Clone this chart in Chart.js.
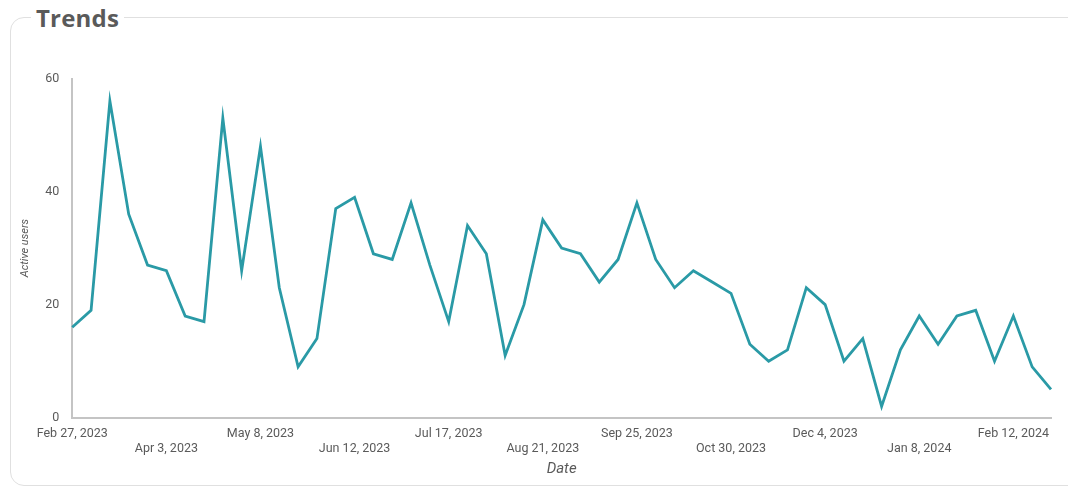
<!DOCTYPE html>
<html>
<head>
<meta charset="utf-8">
<script src="https://cdn.jsdelivr.net/npm/chart.js@4.4.1/dist/chart.umd.min.js"></script>
<style>
  html, body { margin: 0; padding: 0; background: #fff; width: 1068px; height: 488px; overflow: hidden; }
  .card {
    position: absolute; left: 10px; top: 17px; width: 1080px; height: 469px;
    border: 1.5px solid #e0e0e0; border-radius: 14px; box-sizing: border-box;
  }
  .title {
    position: absolute; left: 31px; top: 1px; padding: 0 5px; background: #fff;
    font: bold 24px "Open Sans", sans-serif; color: #5a5a5a; letter-spacing: 0.2px;
  }
  .wrap { position: absolute; left: 15px; top: 66px; width: 1042px; height: 416px; }
</style>
</head>
<body>
<div class="card"></div>
<div class="title">Trends</div>
<div class="wrap"><canvas id="trendChart"></canvas></div>
<script>
/* ----------------------------------------------------------
   DATA (weekly active users)
---------------------------------------------------------- */
const weeks = [
  "Feb 27, 2023", "Mar 6, 2023", "Mar 13, 2023", "Mar 20, 2023", "Mar 27, 2023",
  "Apr 3, 2023", "Apr 10, 2023", "Apr 17, 2023", "Apr 24, 2023", "May 1, 2023",
  "May 8, 2023", "May 15, 2023", "May 22, 2023", "May 29, 2023", "Jun 5, 2023",
  "Jun 12, 2023", "Jun 19, 2023", "Jun 26, 2023", "Jul 3, 2023", "Jul 10, 2023",
  "Jul 17, 2023", "Jul 24, 2023", "Jul 31, 2023", "Aug 7, 2023", "Aug 14, 2023",
  "Aug 21, 2023", "Aug 28, 2023", "Sep 4, 2023", "Sep 11, 2023", "Sep 18, 2023",
  "Sep 25, 2023", "Oct 2, 2023", "Oct 9, 2023", "Oct 16, 2023", "Oct 23, 2023",
  "Oct 30, 2023", "Nov 6, 2023", "Nov 13, 2023", "Nov 20, 2023", "Nov 27, 2023",
  "Dec 4, 2023", "Dec 11, 2023", "Dec 18, 2023", "Dec 25, 2023", "Jan 1, 2024",
  "Jan 8, 2024", "Jan 15, 2024", "Jan 22, 2024", "Jan 29, 2024", "Feb 5, 2024",
  "Feb 12, 2024", "Feb 19, 2024", "Feb 26, 2024"
];

const activeUsers = [
  16, 19, 56, 36, 27, 26, 18, 17, 53, 26,
  48, 23, 9, 14, 37, 39, 29, 28, 38, 27,
  17, 34, 29, 11, 20, 35, 30, 29, 24, 28,
  38, 28, 23, 26, 24, 22, 13, 10, 12, 23,
  20, 10, 14, 2, 12, 18, 13, 18, 19, 10,
  18, 9, 5
];

const yTicks = [0, 20, 40, 60];
const labelEvery = 5;

/* ----------------------------------------------------------
   RENDER
---------------------------------------------------------- */
const axisGray = "#c4c4c4";
const textGray = "#5a5a5a";
const font = "Roboto";

new Chart(document.getElementById("trendChart"), {
  type: "line",
  data: {
    labels: weeks,
    datasets: [{
      label: "Active users",
      data: activeUsers,
      borderColor: "#2a9aa6",
      borderWidth: 2.8,
      pointRadius: 0,
      tension: 0,
      fill: false
    }]
  },
  options: {
    responsive: true,
    maintainAspectRatio: false,
    animation: false,
    layout: { padding: { left: 0, right: 6, top: 0, bottom: 0 } },
    plugins: { legend: { display: false }, tooltip: { enabled: false } },
    scales: {
      x: {
        grid: { display: false },
        border: { color: axisGray, width: 2 },
        ticks: {
          autoSkip: false,
          maxRotation: 0,
          padding: 0,
          color: textGray,
          font: { family: font, size: 12.5, lineHeight: 1.25 },
          callback: (v, i) => {
            if (i % labelEvery) return "";
            const row = (i / labelEvery) % 2;
            return row === 0 ? [weeks[i], ""] : ["", weeks[i]];
          }
        },
        title: {
          display: true, text: "Date", color: textGray,
          font: { family: font, size: 15, style: "italic" }, padding: { top: 3 }
        }
      },
      y: {
        min: 0, max: 60,
        afterBuildTicks: axis => { axis.ticks = yTicks.map(v => ({ value: v })); },
        grid: { display: false },
        border: { color: axisGray, width: 2 },
        ticks: { color: textGray, padding: 5, font: { family: font, size: 12.5 } },
        title: {
          display: true, text: "Active users", color: textGray,
          font: { family: font, size: 11, style: "italic" }, padding: { bottom: 8 }
        }
      }
    }
  }
});
</script>
</body>
</html>
